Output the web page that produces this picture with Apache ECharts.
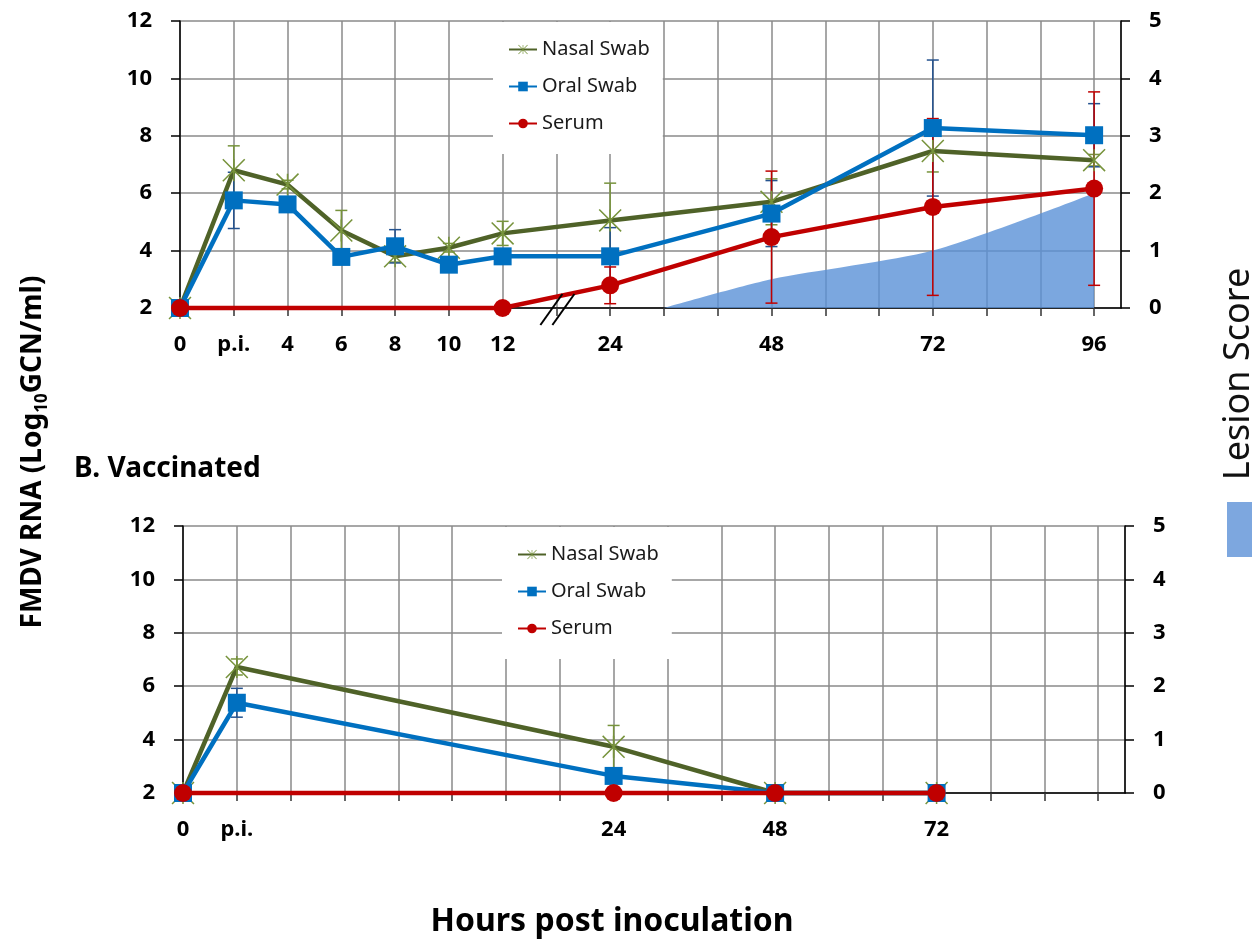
<!DOCTYPE html>
<html>
<head>
<meta charset="utf-8">
<script src="https://cdn.jsdelivr.net/npm/echarts@6/dist/echarts.min.js"></script>
<style>
  html, body { margin: 0; padding: 0; background: #fff; }
  #chart { width: 1254px; height: 942px; }
</style>
</head>
<body>
<div id="chart"></div>
<script>
// x tick labels: early hours (2 h apart) and late hours (8 h per grid step)
var earlyHours = [0, 2, 4, 6, 8, 10, 12];
var earlyLabelsA = ['0', 'p.i.', '4', '6', '8', '10', '12'];
var earlyLabelsB = ['0', 'p.i.'];
var lateLabelsA = [24, 48, 72, 96];
var lateLabelsB = [24, 48, 72];

// A. unvaccinated
var hoursA = [0, 2, 4, 6, 8, 10, 12, 24, 48, 72, 96];
var nasalA = [2.0, 6.8, 6.3, 4.7, 3.8, 4.1, 4.6, 5.05, 5.7, 7.47, 7.15];
var nasalErrA = [0, 0.85, 0.15, 0.7, 0.2, 0.15, 0.42, 1.3, 0.8, 0.73, 0.2];
var oralA = [2.0, 5.75, 5.61, 3.78, 4.15, 3.51, 3.8, 3.8, 5.29, 8.27, 8.02];
var oralErrA = [0, 0.98, 0.1, 0.1, 0.58, 0.1, 0.1, 1.0, 1.15, 2.37, 1.1];
var serumHoursA = [0, 12, 24, 48, 72, 96];
var serumA = [2, 2, 2.79, 4.47, 5.52, 6.16];
var serumErrA = [0, 0, 0.64, 2.3, 3.08, 3.37];
var lesionHoursA = [32, 48, 72, 96];
var lesionA = [0, 0.5, 1.0, 2.0];

// B. vaccinated
var hoursB = [0, 2, 24, 48, 72];
var nasalB = [2, 6.72, 3.73, 2, 2];
var nasalErrB = [0, 0.3, 0.8, 0, 0];
var oralB = [2, 5.38, 2.64, 2, 2];
var oralErrB = [0, 0.54, 0.1, 0, 0];
var serumHoursB = [0, 24, 48, 72];
var serumB = [2, 2, 2, 2];
var serumErrB = [0, 0, 0, 0];

var FONT = "'Noto Sans', 'DejaVu Sans', sans-serif";
var GRID_COLOR = '#8a8a8a';
var starPath = 'path://M-0.7,-10L0.7,-10L0.7,10L-0.7,10Z' +
  'M-10.5,-9.5L-9.5,-10.5L10.5,9.5L9.5,10.5Z' +
  'M9.5,-10.5L10.5,-9.5L-9.5,10.5L-10.5,9.5Z';

var styles = {
  'Nasal Swab': { line: '#4F6228', mark: '#77933C', err: '#77933C', symbol: starPath, size: 23 },
  'Oral Swab': { line: '#0070C0', mark: '#0070C0', err: '#24528F', symbol: 'rect', size: 18 },
  'Serum': { line: '#C00000', mark: '#C00000', err: '#C00000', symbol: 'circle', size: 18 }
};

// axis scale: 2 h per step up to 12 h, a broken step, then 8 h per step from 24 h
function pos(h) { return h <= 12 ? h / 2 : 8 + (h - 24) / 8; }

function xAxis(gridIndex, early, late) {
  return {
    type: 'value', gridIndex: gridIndex, min: 0, max: 17.5, interval: 1,
    axisLine: { show: true, onZero: false, lineStyle: { color: '#000', width: 1.5 } },
    axisTick: { show: true, length: 8, lineStyle: { color: '#333', width: 1.5 } },
    splitLine: { show: true, lineStyle: { color: GRID_COLOR, width: 1.5 } },
    axisLabel: {
      margin: 26, fontSize: 22, fontWeight: 'bold', color: '#000', fontFamily: FONT,
      showMaxLabel: false,
      formatter: function (v) {
        if (v <= 6) return early[v] || '';
        var h = 24 + (v - 8) * 8;
        return late.indexOf(h) >= 0 ? String(h) : '';
      }
    }
  };
}

function yRNA(gridIndex) {
  return {
    type: 'value', gridIndex: gridIndex, min: 2, max: 12, interval: 2, position: 'left',
    axisLine: { show: true, lineStyle: { color: '#000', width: 1.5 } },
    axisTick: { show: true, length: 9, lineStyle: { color: '#000', width: 1.5 } },
    splitLine: { show: true, lineStyle: { color: GRID_COLOR, width: 1.5 } },
    axisLabel: { margin: 28, fontSize: 22, fontWeight: 'bold', color: '#000', fontFamily: FONT }
  };
}

function yLesion(gridIndex) {
  return {
    type: 'value', gridIndex: gridIndex, min: 0, max: 5, interval: 1, position: 'right',
    axisLine: { show: true, lineStyle: { color: '#000', width: 1.5 } },
    axisTick: { show: true, length: 9, lineStyle: { color: '#000', width: 1.5 } },
    splitLine: { show: false },
    axisLabel: { margin: 28, fontSize: 22, fontWeight: 'bold', color: '#000', fontFamily: FONT }
  };
}

function errorSeries(name, xi, yi, hours, vals, errs) {
  var st = styles[name];
  var data = [];
  hours.forEach(function (h, i) {
    if (errs[i] > 0) data.push([pos(h), vals[i], errs[i]]);
  });
  return {
    type: 'custom', name: name + ' error', xAxisIndex: xi, yAxisIndex: yi, z: 3,
    silent: true, data: data,
    renderItem: function (params, api) {
      var x = api.value(0), y = api.value(1), e = api.value(2);
      var top = api.coord([x, Math.min(y + e, 12)]);
      var bot = api.coord([x, Math.max(y - e, 2)]);
      var ls = { stroke: st.err, lineWidth: 1.5 };
      return {
        type: 'group',
        children: [
          { type: 'line', shape: { x1: top[0], y1: top[1], x2: bot[0], y2: bot[1] }, style: ls },
          { type: 'line', shape: { x1: top[0] - 6, y1: top[1], x2: top[0] + 6, y2: top[1] }, style: ls },
          { type: 'line', shape: { x1: bot[0] - 6, y1: bot[1], x2: bot[0] + 6, y2: bot[1] }, style: ls }
        ]
      };
    }
  };
}

function lineSeries(name, xi, yi, hours, vals, z) {
  var st = styles[name];
  return {
    type: 'line', name: name, xAxisIndex: xi, yAxisIndex: yi, z: z,
    data: hours.map(function (h, i) { return [pos(h), vals[i]]; }),
    symbol: st.symbol, symbolSize: st.size, symbolKeepAspect: true,
    showAllSymbol: true, clip: false,
    lineStyle: { color: st.line, width: 4.5 },
    itemStyle: { color: st.mark, borderWidth: 0 },
    emphasis: { disabled: true }
  };
}

function panel(name, ai, hours, vals, errs, z) {
  return [
    lineSeries(name, ai, ai * 2, hours, vals, z),
    errorSeries(name, ai, ai * 2, hours, vals, errs)
  ];
}

var series = [{
  type: 'line', name: 'Lesion Score', xAxisIndex: 0, yAxisIndex: 1, z: 1,
  data: lesionHoursA.map(function (h, i) { return [pos(h), lesionA[i]]; }),
  smooth: 0.25, symbol: 'none', silent: true,
  lineStyle: { width: 0 },
  areaStyle: { color: 'rgb(90,145,215)', opacity: 0.8 }
}];
series = series
  .concat(panel('Nasal Swab', 0, hoursA, nasalA, nasalErrA, 4))
  .concat(panel('Oral Swab', 0, hoursA, oralA, oralErrA, 5))
  .concat(panel('Serum', 0, serumHoursA, serumA, serumErrA, 6))
  .concat(panel('Nasal Swab', 1, hoursB, nasalB, nasalErrB, 4))
  .concat(panel('Oral Swab', 1, hoursB, oralB, oralErrB, 5))
  .concat(panel('Serum', 1, serumHoursB, serumB, serumErrB, 6));

function legendAt(left, top) {
  return {
    data: ['Nasal Swab', 'Oral Swab', 'Serum'], orient: 'vertical',
    left: left, top: top, backgroundColor: '#fff',
    padding: [17, 13, 20, 15], itemWidth: 28, itemHeight: 12, itemGap: 16,
    textStyle: { fontSize: 20, color: '#1a1a1a', fontFamily: FONT, lineHeight: 21 },
    selectedMode: false
  };
}

var chart = echarts.init(document.getElementById('chart'));
var option = {
  backgroundColor: '#fff',
  animation: false,
  grid: [
    { left: 180, top: 21, width: 941, height: 287 },
    { left: 183, top: 526, width: 942, height: 267 }
  ],
  xAxis: [
    xAxis(0, earlyLabelsA, lateLabelsA),
    xAxis(1, earlyLabelsB, lateLabelsB)
  ],
  yAxis: [yRNA(0), yLesion(0), yRNA(1), yLesion(1)],
  legend: [legendAt(493, 22), legendAt(502, 527)],
  series: series,
  graphic: [
    {
      type: 'text', x: 33, y: 452, rotation: Math.PI / 2,
      style: {
        text: '{a|FMDV RNA (Log}{s|10}{a|GCN/ml)}',
        align: 'center', verticalAlign: 'middle',
        rich: {
          a: { fontSize: 28, fontWeight: 'bold', fontFamily: FONT, fill: '#000', lineHeight: 36, verticalAlign: 'middle' },
          s: { fontSize: 17, fontWeight: 'bold', fontFamily: FONT, fill: '#000', lineHeight: 36, verticalAlign: 'bottom' }
        }
      }
    },
    {
      type: 'text', left: 74, top: 455,
      style: { text: 'B. Vaccinated', fontSize: 28, fontWeight: 'bold', fontFamily: FONT, fill: '#000' }
    },
    {
      type: 'text', x: 612, y: 922,
      style: { text: 'Hours post inoculation', fontSize: 32, fontWeight: 'bold', fontFamily: FONT, fill: '#000', align: 'center', verticalAlign: 'middle' }
    },
    {
      type: 'text', x: 1239, y: 374, rotation: Math.PI / 2,
      style: { text: 'Lesion Score', fontSize: 36, fontFamily: FONT, fill: '#111', align: 'center', verticalAlign: 'middle' }
    },
    {
      type: 'rect', shape: { x: 1227, y: 502, width: 25, height: 55 },
      style: { fill: 'rgb(125,167,223)' }
    }
  ]
};
chart.setOption(option);

// axis break mark between 12 h and 24 h in panel A
var c = chart.convertToPixel({ xAxisIndex: 0, yAxisIndex: 0 }, [7, 2]);
chart.setOption({
  graphic: option.graphic.concat([
    { type: 'line', z: 10, shape: { x1: c[0] - 16, y1: c[1] + 17, x2: c[0] + 6, y2: c[1] - 14 }, style: { stroke: '#000', lineWidth: 2 } },
    { type: 'line', z: 10, shape: { x1: c[0] - 4, y1: c[1] + 17, x2: c[0] + 18, y2: c[1] - 14 }, style: { stroke: '#000', lineWidth: 2 } }
  ])
});
window.addEventListener('resize', chart.resize);
</script>
</body>
</html>
